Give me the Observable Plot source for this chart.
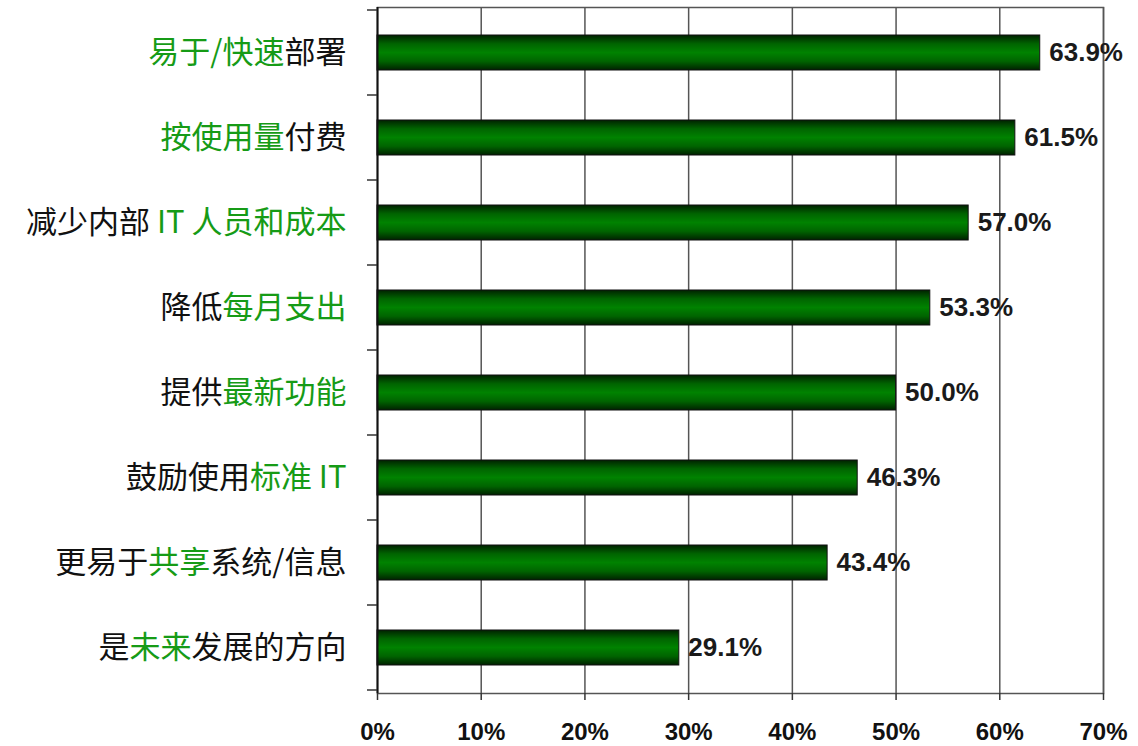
<!DOCTYPE html>
<html>
<head>
<meta charset="utf-8">
<script src="https://cdn.jsdelivr.net/npm/d3@7"></script>
<script src="https://cdn.jsdelivr.net/npm/@observablehq/plot@0.6"></script>
<style>
  html, body { margin: 0; padding: 0; background: #ffffff; }
  #chart svg { display: block; }
</style>
</head>
<body>
<div id="chart"></div>
<script>
const categories = ["易于/快速部署", "按使用量付费", "减少内部 IT 人员和成本", "降低每月支出", "提供最新功能", "鼓励使用标准 IT", "更易于共享系统/信息", "是未来发展的方向"];
const values = [63.9, 61.5, 57.0, 53.3, 50.0, 46.3, 43.4, 29.1];
const greenParts = ["易于/快速", "按使用量", "IT 人员和成本", "每月支出", "最新功能", "标准 IT", "共享", "未来"];
const xTicks = [0, 10, 20, 30, 40, 50, 60, 70];

const GREEN = "#169b16";
const data = categories.map((c, i) => ({category: c, value: values[i]}));

const gradientDefs = () => {
  const defs = d3.create("svg:defs");
  const lg = defs.append("linearGradient").attr("id", "barGrad")
    .attr("x1", 0).attr("x2", 0).attr("y1", 0).attr("y2", 1);
  [[0, "#002200"], [0.25, "#006400"], [0.5, "#008200"], [0.75, "#006400"], [1, "#002200"]]
    .forEach(([o, c]) => lg.append("stop").attr("offset", o).attr("stop-color", c));
  return defs.node();
};

const bandTicks = (index, scales) => {
  const y = scales.y;
  const step = y(categories[1]) - y(categories[0]);
  const bw = typeof y.bandwidth === "function" ? y.bandwidth() : step * 0.41;
  const x0 = scales.x(0);
  const edges = categories.map(c => y(c) - (step - bw) / 2);
  edges.push(edges[edges.length - 1] + step);
  const g = d3.create("svg:g").attr("stroke", "#333").attr("stroke-width", 1.5);
  g.selectAll("line").data(edges).join("line")
    .attr("x1", x0 - 10).attr("x2", x0).attr("y1", d => d).attr("y2", d => d);
  return g.node();
};

const chart = Plot.plot({
  width: 1138,
  height: 746,
  marginLeft: 377,
  marginRight: 35,
  marginTop: 7,
  marginBottom: 53,
  style: {background: "#ffffff", color: "#111"},
  x: {domain: [0, 70], label: null},
  y: {domain: categories, paddingInner: 0.59, paddingOuter: 0.295, label: null},
  marks: [
    gradientDefs,
    Plot.ruleX(xTicks.slice(1), {stroke: "#555", strokeWidth: 1.5, strokeOpacity: 1}),
    Plot.frame({stroke: "#555", strokeWidth: 1.5}),
    Plot.barX(data, {x: "value", y: "category", fill: "url(#barGrad)", stroke: "#111", strokeWidth: 1}),
    Plot.text(data, {
      x: "value", y: "category", text: d => d.value.toFixed(1) + "%",
      textAnchor: "start", dx: 9, fontSize: 26, fontWeight: "bold",
      fill: "#1a1a1a", fontFamily: "Liberation Sans, Arial, sans-serif"
    }),
    Plot.ruleX([0], {stroke: "#111", strokeWidth: 2}),
    bandTicks,
    Plot.axisX({
      ticks: xTicks, tickFormat: d => d + "%", tickSize: 7, tickPadding: 22,
      fontSize: 24, fontWeight: "bold", fontFamily: "Liberation Sans, Arial, sans-serif",
      stroke: "#333", strokeWidth: 1.5, fill: "#111"
    }),
    Plot.axisY({
      tickSize: 0, tickPadding: 31, fontSize: 31,
      fontFamily: "Noto Sans CJK SC, sans-serif", fill: "#111"
    })
  ]
});

d3.select(chart).selectAll('g[aria-label="y-axis tick label"] text').each(function () {
  const t = this.textContent;
  const i = categories.indexOf(t);
  if (i < 0) return;
  const gp = greenParts[i];
  const k = t.indexOf(gp);
  const parts = [[t.slice(0, k), "#111"], [gp, GREEN], [t.slice(k + gp.length), "#111"]].filter(p => p[0]);
  this.textContent = "";
  const sel = d3.select(this);
  parts.forEach(([s, c]) => sel.append("tspan").attr("fill", c).text(s));
});

document.getElementById("chart").append(chart);
</script>
</body>
</html>
